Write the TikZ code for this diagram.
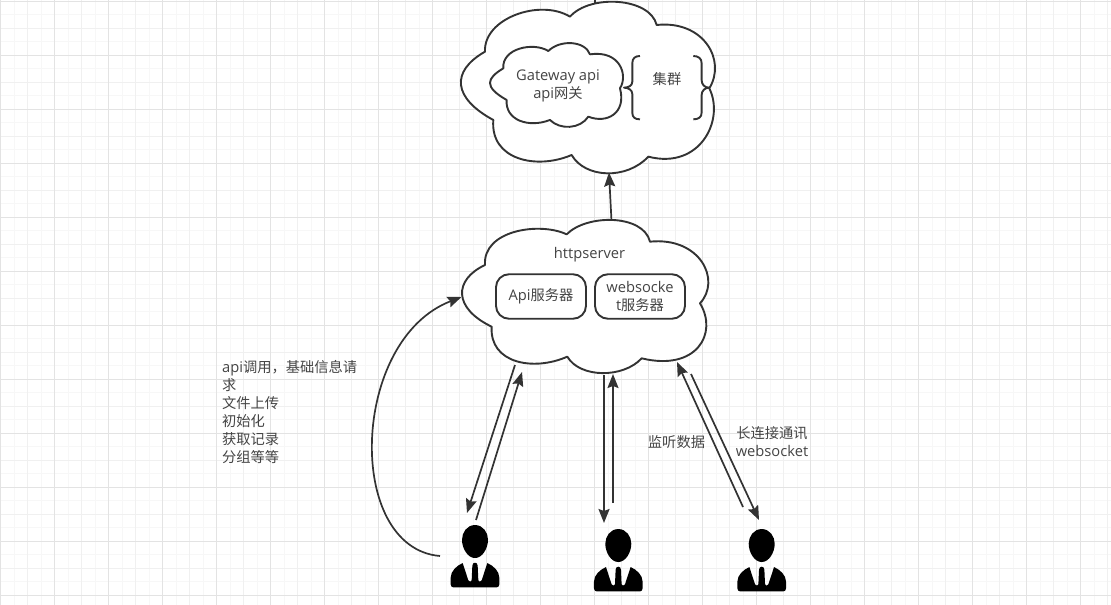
\documentclass[tikz,border=0pt]{standalone}
\usepackage{fontspec}
\setmainfont{Open Sans}
\newfontfamily\cjk[Scale=0.97]{Noto Sans CJK SC}
\usetikzlibrary{arrows.meta}
\definecolor{ink}{HTML}{333333}
\definecolor{txt}{HTML}{444444}
\newcommand{\cn}[1]{{\cjk #1}}
\tikzset{
  shapeline/.style={draw=ink,line width=1.9pt,fill=white,line join=round},
  link/.style={draw=ink,line width=1.7pt,-{Stealth[length=14pt,width=11pt,inset=2pt]}},
  plainlink/.style={draw=ink,line width=1.7pt},
  label/.style={text=txt,font=\fontsize{14.7}{18}\selectfont,inner sep=0pt,align=center},
  roundbox/.style={shapeline,rounded corners=13pt,minimum width=90pt,minimum height=44.5pt,inner sep=0pt},
  zoomA/.style={shift={(440pt,0pt)},x=0.3333pt,y=-0.3333pt},
  zoomB/.style={shift={(440pt,-200pt)},x=0.3333pt,y=-0.3333pt},
  person/.pic={
    \fill[black,x=0.3333pt,y=-0.3333pt]
      (0,-50) .. controls (24,-50) and (39,-28) .. (39,-6)
      .. controls (39,20) and (22,49) .. (0,49)
      .. controls (-22,49) and (-39,20) .. (-39,-6)
      .. controls (-39,-28) and (-24,-50) .. (0,-50) -- cycle;
    \fill[black,x=0.3333pt,y=-0.3333pt]
      (-73,128) -- (-73,108) .. controls (-73,88) and (-55,72) .. (-37,64)
      -- (-20,116) .. controls (-18,121) and (-11,121) .. (-10,116)
      -- (-8,72) .. controls (-8,60) and (8,60) .. (8,72)
      -- (10,116) .. controls (11,121) and (18,121) .. (20,116)
      -- (37,64) .. controls (55,72) and (73,88) .. (73,108)
      -- (73,128) .. controls (73,134) and (69,137) .. (65,137)
      -- (-65,137) .. controls (-69,137) and (-73,134) .. (-73,128) -- cycle;
  }
}
\begin{document}
\begin{tikzpicture}[x=1pt,y=-1pt]
\useasboundingbox (0,0) rectangle (1111,605);
% grid
\foreach \k in {0,...,82}{
  \pgfmathsetmacro{\gx}{0.5+13.5*\k}
  \draw[draw=black!3,line width=0.9pt] (\gx,0) -- (\gx,605);
}
\foreach \k in {0,...,44}{
  \pgfmathsetmacro{\gy}{1+13.5*\k}
  \draw[draw=black!3,line width=0.9pt] (0,\gy) -- (1111,\gy);
}
\foreach \k in {0,...,41}{
  \pgfmathsetmacro{\gx}{0.5+27*\k}
  \draw[draw=black!6,line width=0.9pt] (\gx,0) -- (\gx,605);
}
\foreach \k in {0,...,22}{
  \pgfmathsetmacro{\gy}{1+27*\k}
  \draw[draw=black!6,line width=0.9pt] (0,\gy) -- (1111,\gy);
}
\foreach \k in {0,...,20}{
  \pgfmathsetmacro{\gx}{0.5+54*\k}
  \draw[draw=black!11,line width=0.9pt] (\gx,0) -- (\gx,605);
}
\foreach \k in {0,...,11}{
  \pgfmathsetmacro{\gy}{1+54*\k}
  \draw[draw=black!11,line width=0.9pt] (0,\gy) -- (1111,\gy);
}
% anchors for connectors
\coordinate (topin) at (595,-1);
\coordinate (topout) at (595,4);
\coordinate (gwin) at (609,172.5);
\coordinate (hsout) at (611.5,221);
\coordinate (hsleft) at (461.5,297);
\coordinate (a1s) at (515,365);
\coordinate (a1t) at (467,513);
\coordinate (a2s) at (476,520);
\coordinate (a2t) at (522,372);
\coordinate (b1s) at (604,375);
\coordinate (b1t) at (604,523);
\coordinate (b2s) at (613,503);
\coordinate (b2t) at (613,374);
\coordinate (c1s) at (743,507);
\coordinate (c1t) at (677,362);
\coordinate (c2s) at (691,374);
\coordinate (c2t) at (759,520);
\coordinate (curves) at (440,556);
% connectors
\draw[plainlink] (topin) -- (topout);
\draw[link] (hsout) -- (gwin);
\draw[link] (curves) .. controls (345,548) and (350,340) .. (hsleft);
\draw[link] (a1s) -- (a1t);
\draw[link] (a2s) -- (a2t);
\draw[link] (b1s) -- (b1t);
\draw[link] (b2s) -- (b2t);
\draw[link] (c1s) -- (c1t);
\draw[link] (c2s) -- (c2t);
% gateway outer cloud
\begin{scope}[zoomA]
\draw[shapeline] (135,155) .. controls (130,55) and (300,-5) .. (390,50)
  .. controls (450,-18) and (630,-8) .. (650,75)
  .. controls (790,60) and (860,180) .. (808,265)
  .. controls (855,360) and (780,510) .. (625,470)
  .. controls (560,540) and (435,535) .. (395,465)
  .. controls (290,510) and (150,480) .. (160,360)
  .. controls (40,295) and (30,215) .. (135,155) -- cycle;
\draw[shapeline] (190,205) .. controls (185,145) and (280,125) .. (325,153)
  .. controls (360,118) and (435,122) .. (450,163)
  .. controls (540,150) and (565,225) .. (540,265)
  .. controls (560,340) and (500,372) .. (445,350)
  .. controls (420,388) and (360,390) .. (330,360)
  .. controls (265,385) and (195,360) .. (200,300)
  .. controls (130,260) and (140,235) .. (190,205) -- cycle;
\draw[draw=ink,line width=1.9pt,line join=round]
  (600,168) .. controls (585,168) and (577,175) .. (577,190) -- (577,245)
  .. controls (577,257) and (565,263) .. (552,263)
  .. controls (565,263) and (577,270) .. (577,282) -- (577,338)
  .. controls (577,352) and (585,358) .. (600,358);
\draw[draw=ink,line width=1.9pt,line join=round]
  (760,168) .. controls (775,168) and (785,175) .. (785,190) -- (785,240)
  .. controls (785,255) and (795,263) .. (808,263)
  .. controls (795,263) and (785,272) .. (785,285) -- (785,338)
  .. controls (785,352) and (775,358) .. (760,358);
\end{scope}
% httpserver cloud
\begin{scope}[zoomB]
\draw[shapeline] (135,195) .. controls (128,90) and (300,65) .. (380,103)
  .. controls (440,42) and (610,42) .. (630,125)
  .. controls (780,110) and (845,240) .. (780,310)
  .. controls (835,400) and (770,515) .. (605,475)
  .. controls (550,535) and (420,535) .. (382,470)
  .. controls (280,515) and (148,490) .. (155,380)
  .. controls (40,325) and (40,240) .. (135,195) -- cycle;
\end{scope}
\node[roundbox] (apibox) at (541,296.5) {};
\node[roundbox] (wsbox) at (640,296.5) {};
% labels
\node[label] (gw) at (558,85.5) {Gateway api\\api\cn{网关}};
\node[label] (cluster) at (667,79) {\cn{集群}};
\node[label] (hs) at (589.5,254.5) {httpserver};
\node[label] (apit) at (541,296.5) {Api\cn{服务器}};
\node[label] (wst) at (640,296) {websocke\\t\cn{服务器}};
\node[label,align=left,anchor=north west] (notes) at (222,360) {api\cn{调用，基础信息请}\\\cn{求}\\\cn{文件上传}\\\cn{初始化}\\\cn{获取记录}\\\cn{分组等等}};
\node[label] (listen) at (676.5,442) {\cn{监听数据}};
\node[label] (longc) at (772,442) {\cn{长连接通讯}\\websocket};
% people
\path (475,541.7) pic {person};
\path (618.3,545.7) pic {person};
\path (761.7,545.7) pic {person};
\end{tikzpicture}
\end{document}
